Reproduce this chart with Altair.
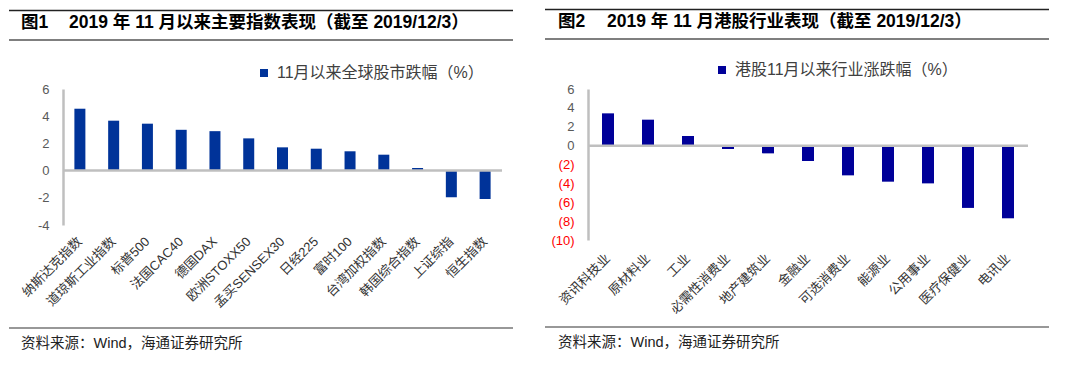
import altair as alt
import pandas as pd

# ---------------- data ----------------
left_names = ["纳斯达克指数", "道琼斯工业指数", "标普500", "法国CAC40", "德国DAX", "欧洲STOXX50",
              "孟买SENSEX30", "日经225", "富时100", "台湾加权指数", "韩国综合指数", "上证综指", "恒生指数"]
left_values = [4.55, 3.67, 3.45, 3.0, 2.9, 2.37, 1.71, 1.61, 1.42, 1.17, 0.19, -1.96, -2.09]

right_names = ["资讯科技业", "原材料业", "工业", "必需性消费业", "地产建筑业", "金融业",
               "可选消费业", "能源业", "公用事业", "医疗保健业", "电讯业"]
right_values = [3.42, 2.75, 1.02, -0.36, -0.82, -1.63, -3.15, -3.82, -4.0, -6.6, -7.7]

left_series = "11月以来全球股市跌幅（%）"
right_series = "港股11月以来行业涨跌幅（%）"
left_fig = "图1"
left_title = "2019 年 11 月以来主要指数表现（截至 2019/12/3）"
right_fig = "图2"
right_title = "2019 年 11 月港股行业表现（截至 2019/12/3）"
source_text = "资料来源：Wind，海通证券研究所"

left_ticks = [6, 4, 2, 0, -2, -4]
right_ticks = [6, 4, 2, 0, -2, -4, -6, -8, -10]

FONT = "Liberation Sans, Noto Sans CJK SC"
one = pd.DataFrame({"k": [0]})


def panel(names, values, series, color, ticks, width, height, barsize,
          fig_no, title, ox, oy, fig_x, title_x, line_l, line_r,
          legend_x, legend_y, red_neg, lab_pad):
    df = pd.DataFrame({"name": names, "value": values, "series": series})
    if red_neg:
        label_expr = "datum.value < 0 ? '(' + (-datum.value) + ')' : '' + datum.value"
        label_color = alt.condition("datum.value < 0", alt.value("#FF0000"), alt.value("#595959"))
    else:
        label_expr = "'' + datum.value"
        label_color = "#595959"

    x_enc = alt.X("name:N", sort=names,
                  scale=alt.Scale(paddingInner=0, paddingOuter=0),
                  axis=alt.Axis(title=None, labelAngle=315, labelAlign="right",
                                labelBaseline="middle", domain=False, ticks=False,
                                labelPadding=lab_pad, labelFont=FONT, labelFontSize=13,
                                labelColor="#333333", labelLimit=200))
    y_enc = alt.Y("value:Q",
                  scale=alt.Scale(domain=[min(ticks), max(ticks)], nice=False, zero=False),
                  axis=alt.Axis(title=None, values=ticks, grid=False, ticks=False,
                                domainColor="#BFBFBF", domainWidth=2.5,
                                labelFont="Liberation Sans", labelFontSize=13,
                                labelColor=label_color, labelExpr=label_expr,
                                labelOverlap=False, labelPadding=14))
    bars = alt.Chart(df).mark_bar(size=barsize).encode(
        x=x_enc, y=y_enc,
        color=alt.Color("series:N", scale=alt.Scale(range=[color]),
                        legend=alt.Legend(title=None, orient="none",
                                          legendX=legend_x, legendY=legend_y,
                                          symbolType="square", symbolSize=64,
                                          symbolStrokeWidth=0, padding=0,
                                          labelFont=FONT, labelFontSize=16,
                                          labelColor="#404040", labelLimit=400,
                                          labelOffset=5)))
    zero = alt.Chart(pd.DataFrame({"value": [0]})).mark_rule(
        color="#BFBFBF", strokeWidth=2.5).encode(
        y=y_enc, x=alt.value(0), x2=alt.value(width))

    def hline(ypage, color, sw):
        return alt.Chart(one).mark_rule(color=color, strokeWidth=sw).encode(
            x=alt.value(line_l - ox), x2=alt.value(line_r - ox), y=alt.value(ypage - oy))

    def text(s, xpage, ypage, size, weight="normal", color="#000000"):
        return alt.Chart(one).mark_text(text=s, align="left", baseline="middle",
                                        font=FONT, fontSize=size, fontWeight=weight,
                                        color=color).encode(
            x=alt.value(xpage - ox), y=alt.value(ypage - oy))

    layers = [
        bars, zero,
        hline(8.5, "#222222", 1.5),
        hline(38, "#555555", 1.5),
        hline(326, "#333333", 1.2),
        text(fig_no, fig_x, 21, 17.5, "bold"),
        text(title, title_x, 21, 17.5, "bold"),
        text(source_text, fig_x, 342, 14.5, "normal", "#222222"),
    ]
    return alt.layer(*layers).properties(width=width, height=height)


left = panel(left_names, left_values, left_series, "#003399", left_ticks,
             439, 136, 11, left_fig, left_title, 62, 87, 20, 68, 8, 512,
             193, -24, False, 14)
right = panel(right_names, right_values, right_series, "#000099", right_ticks,
              440, 151, 12, right_fig, right_title, 588, 88, 558, 607, 545, 1049,
              126, -27, True, 16)

chart = (alt.hconcat(left, right, spacing=30)
         .resolve_scale(color="independent")
         .resolve_legend(color="independent")
         .properties(padding=0)
         .configure_axisY(labelOverlap=False)
         .configure_view(stroke=None))
chart.save("out.html", embed_options={"renderer": "svg", "actions": False})
